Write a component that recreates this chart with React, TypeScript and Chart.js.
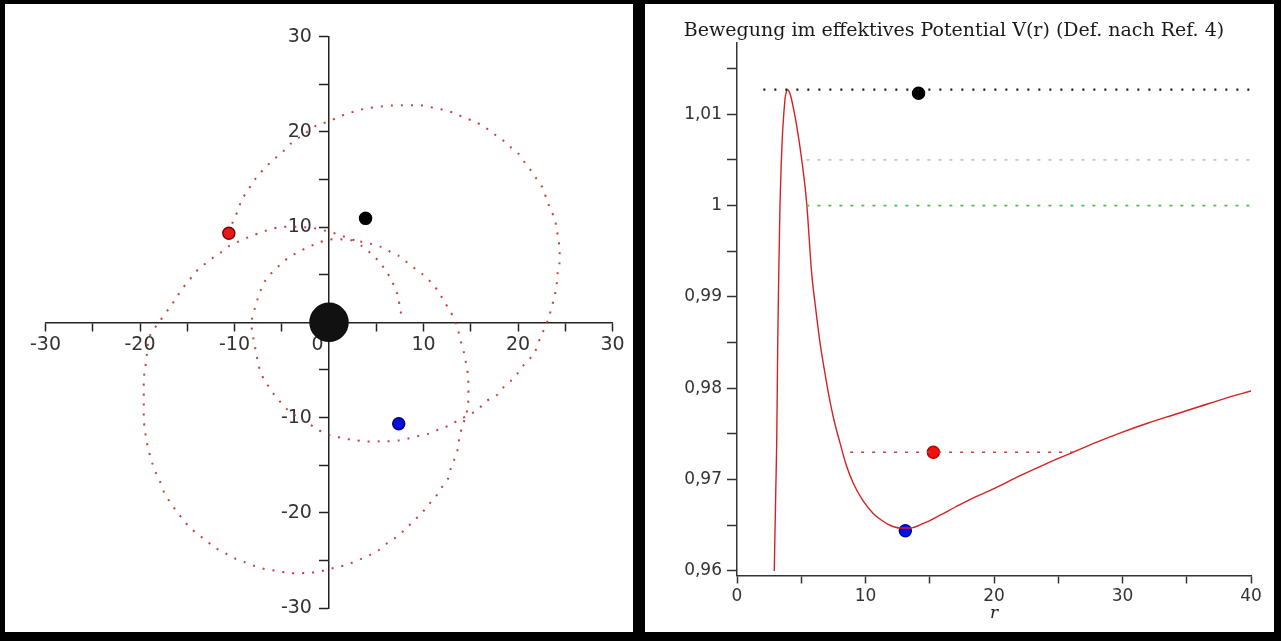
import React, { useEffect, useRef } from 'react';
import { Chart, registerables } from 'chart.js';

Chart.register(...registerables);

// ---------- Left panel: orbit (x, y) ----------
const orbitX = [
  -10.6, -10.1, -9.6, -9.25, -8.55, -8.0, -7.3, -6.6, -5.75, -4.9, -4.0, -2.6, -1.2, 0.0, 1.06, 2.1, 3.2, 4.2, 5.4, 6.5,
  7.7, 8.9, 10.0, 11.2, 12.2, 13.3, 14.3, 15.4, 16.4, 17.3, 18.3, 19.1, 20.0, 20.7, 21.4, 22.0, 22.7, 23.0, 23.4, 23.9,
  24.1, 24.3, 24.4, 24.4, 24.2, 24.1, 23.9, 23.6, 23.3, 22.9, 22.4, 21.7, 20.6, 19.95, 19.2, 18.4, 17.7, 16.6, 15.8, 14.9,
  13.8, 12.8, 11.7, 10.7, 9.6, 8.4, 7.4, 6.1, 5.1, 3.9, 2.6, 1.6, 0.37, -0.5, -1.55, -2.3, -3.4, -4.35, -5.2, -5.9,
  -6.6, -7.2, -7.5, -7.7, -7.9, -8.1, -8.2, -7.9, -7.6, -7.3, -6.8, -6.1, -5.2, -4.4, -3.5, -2.45, -1.4, -0.16, 0.9, 1.9,
  3.0, 4.2, 5.3, 6.3, 7.4, 8.3, 9.2, 10.0, 10.9, 11.6, 12.2, 12.8, 13.3, 13.65, 14.0, 14.3, 14.5, 14.7, 14.75, 14.75,
  14.7, 14.45, 14.1, 13.8, 13.65, 13.3, 12.9, 12.6, 11.9, 11.3, 10.5, 9.8, 8.9, 8.0, 7.2, 6.3, 5.3, 4.4, 3.3, 2.3,
  1.06, 0.0, -1.03, -2.1, -3.3, -4.35, -5.6, -6.8, -7.85, -8.9, -9.95, -11.0, -12.0, -12.9, -13.8, -14.7, -15.4, -16.1, -16.8, -17.4,
  -17.8, -18.3, -18.7, -19.0, -19.3, -19.45, -19.6, -19.6, -19.6, -19.6, -19.6, -19.45, -19.3, -19.2, -18.9, -18.0, -16.9, -16.2, -15.55, -14.8,
  -14.1, -13.3, -12.4, -11.5, -10.6, -9.6, -8.4, -7.3, -6.3, -5.2, -4.0, -2.8, -1.6, -0.7, 0.37, 1.4, 2.6, 3.5, 4.4, 5.3,
  5.96, 6.5, 7.0, 7.35, 7.5, 7.8,
];
const orbitY = [
  9.36, 10.75, 11.8, 12.86, 13.9, 14.8, 15.66, 16.4, 17.2, 17.9, 18.8, 19.8, 20.75, 21.1, 21.6, 21.96, 22.3, 22.5, 22.66, 22.76,
  22.8, 22.8, 22.76, 22.5, 22.3, 21.96, 21.5, 21.1, 20.56, 19.9, 19.2, 18.5, 17.76, 16.8, 15.9, 15.0, 13.98, 12.96, 12.0, 10.8,
  9.7, 8.66, 7.43, 6.27, 5.22, 4.03, 2.88, 1.72, 0.67, -0.45, -1.5, -3.25, -4.5, -5.35, -6.2, -6.9, -7.7, -8.3, -9.1, -9.7,
  -10.2, -10.8, -11.2, -11.65, -11.9, -12.2, -12.4, -12.5, -12.5, -12.5, -12.35, -12.2, -11.9, -11.65, -11.0, -10.6, -9.9, -9.2, -8.3, -7.45,
  -6.4, -5.35, -4.3, -3.25, -2.2, -1.15, 0.0, 1.3, 2.3, 3.2, 4.3, 5.16, 6.03, 6.7, 7.26, 7.78, 8.24, 8.66, 8.73, 8.66,
  8.55, 8.3, 8.0, 7.5, 6.97, 6.27, 5.56, 4.98, 4.1, 3.2, 2.17, 1.23, 0.25, -0.8, -2.2, -3.25, -4.3, -5.5, -6.75, -7.8,
  -8.85, -9.9, -10.96, -12.0, -13.2, -14.3, -15.3, -16.4, -17.4, -18.3, -19.2, -20.05, -20.9, -21.8, -22.5, -23.1, -23.9, -24.4, -24.9, -25.3,
  -25.7, -25.9, -26.2, -26.3, -26.35, -26.3, -26.1, -25.9, -25.6, -25.2, -24.8, -24.25, -23.7, -23.0, -22.3, -21.6, -20.75, -19.9, -18.9, -17.95,
  -16.9, -15.85, -14.8, -13.75, -12.5, -11.5, -10.25, -9.2, -8.15, -6.9, -5.9, -4.8, -3.6, -2.55, -1.3, 0.0, 1.5, 2.5, 3.5, 4.4,
  5.3, 6.0, 6.7, 7.3, 8.0, 8.47, 9.0, 9.4, 9.75, 10.0, 10.05, 10.0, 9.9, 9.7, 9.42, 9.07, 8.66, 8.0, 7.26, 6.38,
  5.5, 4.63, 3.58, 2.53, 1.48, 0.25,
];
const centreMass = [0, 0];
const orbitBlack = [3.87, 10.92];
const orbitRed = [-10.6, 9.36];
const orbitBlue = [7.38, -10.64];
const orbitTickValues = [-30, -20, -10, 0, 10, 20, 30];
const orbitXTickLabels = ['-30', '-20', '-10', '0', '10', '20', '30'];
const orbitYTickLabels = ['-30', '-20', '-10', '', '10', '20', '30'];

// ---------- Right panel: effective potential V(r) ----------
const rValues = [
  2.90, 3.02, 3.09, 3.17, 3.26, 3.35, 3.44, 3.53, 3.64, 3.74, 3.85, 3.94, 4.05, 4.18, 4.40, 4.65, 5.03, 5.42, 5.81, 6.10,
  6.46, 6.80, 7.11, 7.55, 8.02, 8.50, 9.05, 9.80, 10.6, 11.2, 11.9, 12.7, 13.46, 14.5, 15.8, 17.0, 18.4, 20.0, 22.0, 24.0,
  26.0, 28.0, 30.0, 32.0, 34.0, 36.0, 38.0, 40.0,
];
const vValues = [
  0.9600, 0.9690, 0.9740, 0.9850, 0.9935, 1.0003, 1.0045, 1.0076, 1.0100, 1.0117, 1.0125, 1.0127, 1.0125, 1.0120, 1.0106, 1.0087, 1.0051, 1.0003, 0.9926, 0.9890,
  0.9850, 0.9820, 0.9795, 0.9765, 0.9740, 0.9716, 0.9696, 0.9677, 0.9663, 0.9656, 0.9650, 0.9647, 0.9647, 0.9652, 0.9661, 0.9670, 0.9680, 0.9690, 0.9704, 0.9717,
  0.9729, 0.9741, 0.9752, 0.9762, 0.9771, 0.9780, 0.9789, 0.9797,
];
const levelValues = [1.0127, 1.005, 1.0, 0.973];
const levelStartR = [2.05, 5.4, 5.4, 8.8];
const levelEndR = [40, 40, 40, 26.2];
const levelColors = ['#1a1a1a', '#c4c4c4', '#4cbf4c', '#d03c3c'];
const potBlack = [14.13, 1.0123];
const potRed = [15.28, 0.973];
const potBlue = [13.1, 0.9644];
const rTickValues = [0, 10, 20, 30, 40];
const rTickLabels = ['0', '10', '20', '30', '40'];
const vTickValues = [0.96, 0.97, 0.98, 0.99, 1.0, 1.01];
const vTickLabels = ['0,96', '0,97', '0,98', '0,99', '1', '1,01'];
const chartTitle = 'Bewegung im effektives Potential V(r) (Def. nach Ref. 4)';
const rAxisTitle = 'r';

const leftTickFont = { family: 'DejaVu Sans', size: 19 };
const rightTickFont = { family: 'DejaVu Sans', size: 17 };

function labelFrom(values: number[], labels: string[], v: number): string {
  for (let i = 0; i < values.length; i++) {
    if (Math.abs(values[i] - v) < 1e-6) return labels[i];
  }
  return '';
}

function dot(xy: number[], fill: string, stroke: string, radius: number) {
  return {
    data: [{ x: xy[0], y: xy[1] }],
    pointRadius: radius,
    pointHoverRadius: radius,
    backgroundColor: fill,
    borderColor: stroke,
    borderWidth: 1.5,
    showLine: false,
  };
}

export default function App() {
  const leftRef = useRef<HTMLCanvasElement>(null);
  const rightRef = useRef<HTMLCanvasElement>(null);

  useEffect(() => {
    const left = new Chart(leftRef.current as HTMLCanvasElement, {
      type: 'scatter',
      data: {
        datasets: [
          {
            data: orbitX.map((x, i) => ({ x, y: orbitY[i] })),
            showLine: true,
            borderColor: 'rgba(192,44,44,0.9)',
            borderWidth: 2,
            borderDash: [2, 8],
            pointRadius: 0,
            tension: 0.3,
            fill: false,
          } as any,
          dot(centreMass, '#111111', '#111111', 19),
          dot(orbitBlack, '#000000', '#000000', 6),
          dot(orbitRed, '#e81818', '#7a0000', 6),
          dot(orbitBlue, '#0010e0', '#000070', 6),
        ],
      },
      options: {
        responsive: false,
        animation: false,
        layout: { padding: { left: 40.5, right: 15.5, top: 32.7, bottom: 24 } },
        plugins: { legend: { display: false }, tooltip: { enabled: false }, title: { display: false } },
        scales: {
          x: {
            type: 'linear',
            position: { y: 0 } as any,
            min: -30,
            max: 30,
            afterFit: (s: any) => { s.height = 0; },
            ticks: {
              stepSize: 5,
              autoSkip: false,
              maxRotation: 0,
              color: '#333333',
              font: leftTickFont,
              padding: 3,
              callback: (v: any) => {
                const t = labelFrom(orbitTickValues, orbitXTickLabels, Number(v));
                return t === '0' ? '0\u2003\u2009' : t;
              },
            },
            grid: { drawOnChartArea: false, drawTicks: true, tickLength: 8, tickColor: '#222222', tickWidth: 1.5 },
            border: { display: true, color: '#222222', width: 1.5 },
          },
          y: {
            type: 'linear',
            position: { x: 0 } as any,
            min: -30,
            max: 30,
            afterFit: (s: any) => { s.width = 0; },
            ticks: {
              stepSize: 5,
              autoSkip: false,
              color: '#333333',
              font: leftTickFont,
              padding: 3,
              callback: (v: any) => {
                const t = labelFrom(orbitTickValues, orbitYTickLabels, Number(v));
                return t ? t + '\u2002\u2009\u2009' : '';
              },
            },
            grid: { drawOnChartArea: false, drawTicks: true, tickLength: 9, tickColor: '#222222', tickWidth: 1.5 },
            border: { display: true, color: '#222222', width: 1.5 },
          },
        },
      },
    } as any);

    const levelSets = levelValues.map((lv, i) => ({
      data: [{ x: levelStartR[i], y: lv }, { x: levelEndR[i], y: lv }],
      showLine: true,
      borderColor: levelColors[i],
      borderWidth: i === 0 ? 2.2 : 1.6,
      borderDash: i === 0 ? [2, 9] : [3, 8],
      pointRadius: 0,
      fill: false,
    }));

    const right = new Chart(rightRef.current as HTMLCanvasElement, {
      type: 'scatter',
      data: {
        datasets: [
          ...levelSets,
          {
            data: rValues.map((r, i) => ({ x: r, y: vValues[i] })),
            showLine: true,
            borderColor: '#d42222',
            borderWidth: 1.4,
            pointRadius: 0,
            cubicInterpolationMode: 'monotone',
            fill: false,
          } as any,
          dot(potBlack, '#000000', '#000000', 6),
          dot(potRed, '#f01010', '#c00000', 6),
          dot(potBlue, '#0010e8', '#0000a0', 6),
        ],
      },
      options: {
        responsive: false,
        animation: false,
        layout: { padding: { left: 12, right: 23, top: 0, bottom: 7.8 } },
        plugins: {
          legend: { display: false },
          tooltip: { enabled: false },
          title: {
            display: true,
            text: chartTitle,
            color: '#1a1a1a',
            font: { family: 'DejaVu Serif', size: 19, weight: 'normal', lineHeight: 1.2 },
            padding: { top: 15.6, bottom: 0.6 },
          },
        },
        scales: {
          x: {
            type: 'linear',
            position: 'bottom',
            min: 0,
            max: 40,
            afterFit: (s: any) => { s.height = 48.7; },
            title: {
              display: true,
              text: rAxisTitle,
              color: '#222222',
              font: { family: 'DejaVu Serif', style: 'italic', size: 17, lineHeight: 1.2 },
              padding: 0,
            },
            ticks: {
              stepSize: 5,
              autoSkip: false,
              maxRotation: 0,
              color: '#333333',
              font: rightTickFont,
              padding: 3,
              callback: (v: any) => labelFrom(rTickValues, rTickLabels, Number(v)),
            },
            grid: { drawOnChartArea: false, drawTicks: true, tickLength: 8, tickColor: '#333333', tickWidth: 1.5 },
            border: { display: true, color: '#333333', width: 1.5 },
          },
          y: {
            type: 'linear',
            position: 'left',
            min: 0.9595,
            max: 1.0178,
            afterFit: (s: any) => { s.width = 80; },
            ticks: {
              stepSize: 0.005,
              includeBounds: false,
              autoSkip: false,
              color: '#333333',
              font: rightTickFont,
              padding: 5,
              callback: (v: any) => labelFrom(vTickValues, vTickLabels, Number(v)),
            },
            grid: { drawOnChartArea: false, drawTicks: true, tickLength: 10, tickColor: '#333333', tickWidth: 1.5 },
            border: { display: true, color: '#333333', width: 1.5 },
          },
        },
      },
    } as any);

    return () => {
      left.destroy();
      right.destroy();
    };
  }, []);

  return (
    <div style={{ position: 'fixed', left: 0, top: 0, width: 1281, height: 641, background: '#000', overflow: 'hidden' }}>
      <div style={{ position: 'absolute', left: 5, top: 4, width: 628, height: 628, background: '#fff' }}>
        <canvas ref={leftRef} width={628} height={628} style={{ display: 'block', width: 628, height: 628 }} />
      </div>
      <div style={{ position: 'absolute', left: 645, top: 4, width: 629, height: 628, background: '#fff' }}>
        <canvas ref={rightRef} width={629} height={628} style={{ display: 'block', width: 629, height: 628 }} />
      </div>
    </div>
  );
}
